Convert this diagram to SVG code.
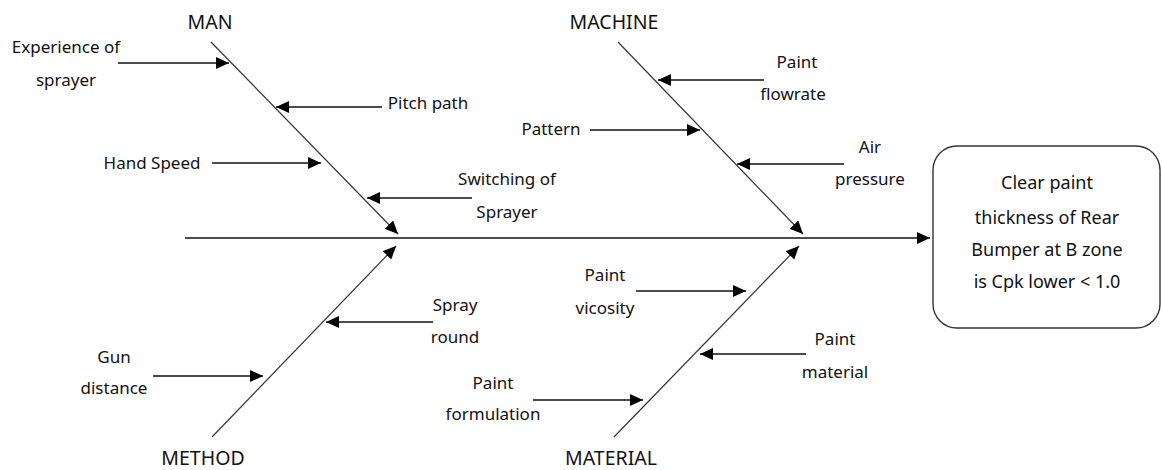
<svg xmlns="http://www.w3.org/2000/svg" width="1162" height="470" viewBox="0 0 1162 470">
<style>
text{font-family:"Noto Sans","Liberation Sans",sans-serif;fill:#111;text-anchor:middle}
.lbl{font-size:17px}
.cat{font-size:19.5px}
.box{font-size:18px}
.ln{stroke:#111;stroke-width:1.3;fill:none;marker-end:url(#ah)}
.bone{stroke:#333;stroke-width:1.2;fill:none;marker-end:url(#ah)}
</style>
<defs>
<marker id="ah" markerUnits="userSpaceOnUse" markerWidth="14" markerHeight="12" refX="13" refY="6" orient="auto">
<path d="M0,0 L13,6 L0,12 z" fill="#000"/>
</marker>
</defs>
<rect width="1162" height="470" fill="#fff"/>
<g id="connectors">
<line class="ln" x1="185" y1="238" x2="930" y2="238"/>
<line class="bone" x1="211" y1="42" x2="398" y2="234"/>
<line class="bone" x1="618" y1="42" x2="803" y2="234"/>
<line class="bone" x1="212" y1="437" x2="396" y2="246"/>
<line class="bone" x1="614" y1="437" x2="799" y2="246"/>
<line class="ln" x1="118" y1="63" x2="229" y2="63"/>
<line class="ln" x1="382" y1="107" x2="276" y2="107"/>
<line class="ln" x1="212" y1="163" x2="321" y2="163"/>
<line class="ln" x1="472" y1="198" x2="367" y2="198"/>
<line class="ln" x1="764" y1="80" x2="658" y2="80"/>
<line class="ln" x1="590" y1="130" x2="700" y2="130"/>
<line class="ln" x1="844" y1="164" x2="737" y2="164"/>
<line class="ln" x1="433" y1="322" x2="326" y2="322"/>
<line class="ln" x1="153" y1="376" x2="263" y2="376"/>
<line class="ln" x1="636" y1="291" x2="746" y2="291"/>
<line class="ln" x1="806" y1="354" x2="700" y2="354"/>
<line class="ln" x1="533" y1="400" x2="643" y2="400"/>
</g>
<g id="man"><text class="cat" x="210" y="29">MAN</text></g>
<g id="machine"><text class="cat" x="614" y="29">MACHINE</text></g>
<g id="method"><text class="cat" x="203" y="465">METHOD</text></g>
<g id="material"><text class="cat" x="611" y="465">MATERIAL</text></g>
<g id="experience"><text class="lbl" x="66" y="53">Experience of</text><text class="lbl" x="66" y="86">sprayer</text></g>
<g id="pitch"><text class="lbl" x="428" y="109">Pitch path</text></g>
<g id="hand"><text class="lbl" x="152" y="169">Hand Speed</text></g>
<g id="switching"><text class="lbl" x="507" y="185">Switching of</text><text class="lbl" x="507" y="218">Sprayer</text></g>
<g id="flowrate"><text class="lbl" x="797" y="68">Paint</text><text class="lbl" x="793" y="100">flowrate</text></g>
<g id="pattern"><text class="lbl" x="551" y="135">Pattern</text></g>
<g id="air"><text class="lbl" x="870" y="153">Air</text><text class="lbl" x="870" y="185">pressure</text></g>
<g id="spray"><text class="lbl" x="455" y="311">Spray</text><text class="lbl" x="455" y="343">round</text></g>
<g id="gun"><text class="lbl" x="114" y="363">Gun</text><text class="lbl" x="114" y="394">distance</text></g>
<g id="vicosity"><text class="lbl" x="605" y="281">Paint</text><text class="lbl" x="605" y="314">vicosity</text></g>
<g id="pmaterial"><text class="lbl" x="835" y="345">Paint</text><text class="lbl" x="835" y="378">material</text></g>
<g id="formulation"><text class="lbl" x="493" y="389">Paint</text><text class="lbl" x="493" y="420">formulation</text></g>
<g id="effect">
<rect x="933" y="146" width="227" height="182" rx="24" ry="24" fill="#fff" stroke="#333" stroke-width="1.4"/>
<text class="box" x="1047" y="189">Clear paint</text>
<text class="box" x="1047" y="224">thickness of Rear</text>
<text class="box" x="1047" y="256">Bumper at B zone</text>
<text class="box" x="1047" y="288">is Cpk lower &lt; 1.0</text>
</g>
</svg>
